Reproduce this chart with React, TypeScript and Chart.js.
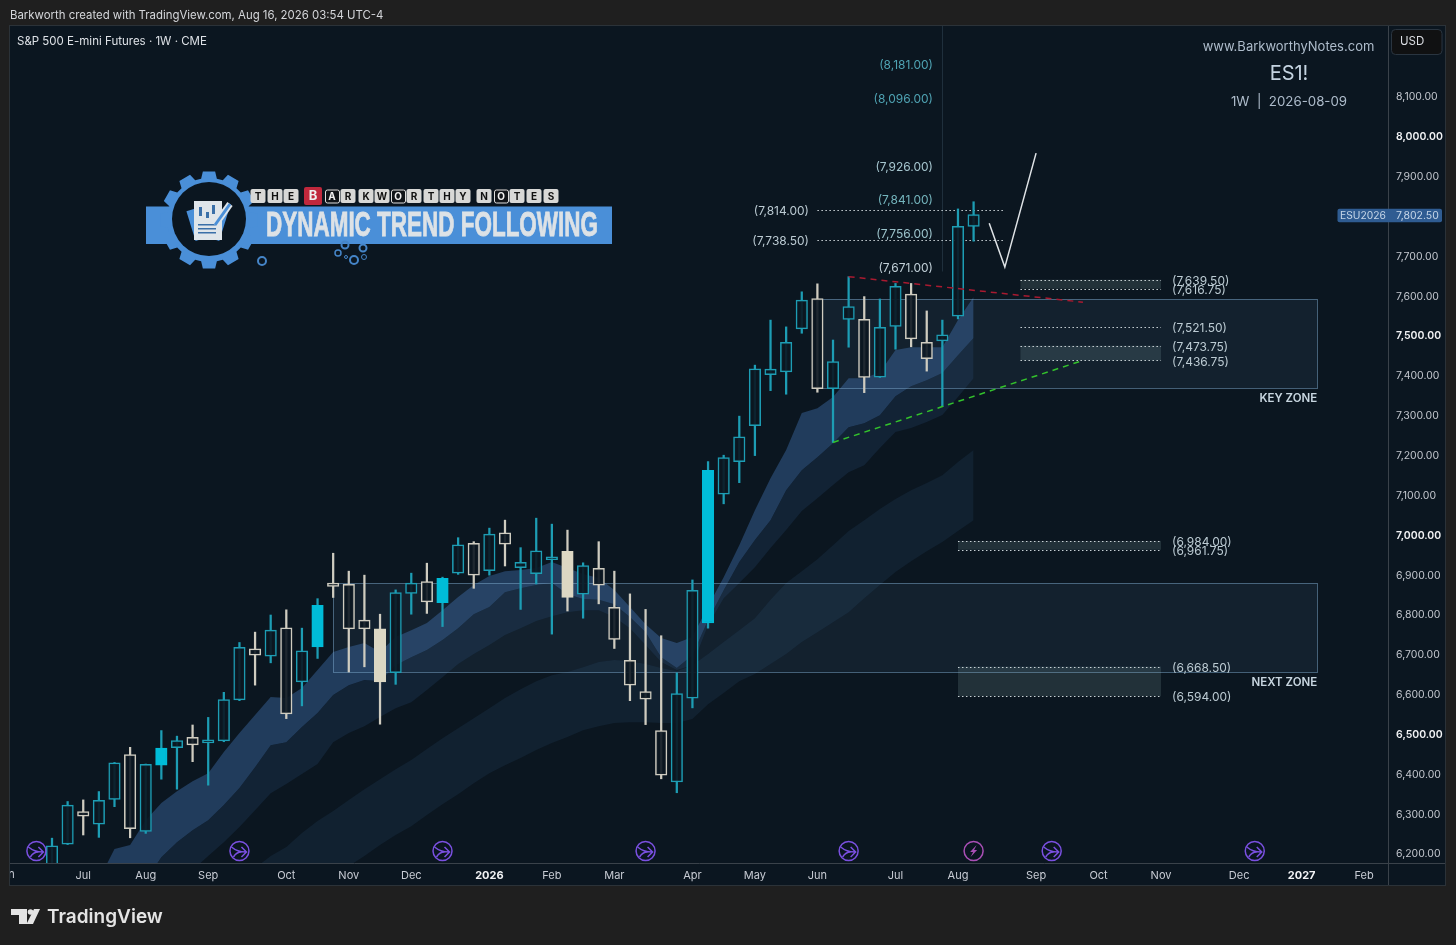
import React, { useEffect, useRef } from "react";
import { Chart, registerables } from "chart.js";

Chart.register(...registerables);

const FONT = 'Inter, "Noto Sans", sans-serif';

// weekly candles, week 0 = mid June 2025, week 59 = 2026-08-09
const opens = [6160,6223,6305,6273,6335,6448,6255,6421,6465,6491,6477,6482,6585,6713,6695,6766,6630,6718,6878,6875,6785,6763,6653,6852,6882,6829,6903,6978,6909,7004,6917,6902,6937,6958,6850,6915,6817,6684,6606,6508,6379,6589,6778,7101,7183,7273,7401,7408,7516,7592,7366,7540,7540,7395,7522,7603,7482,7486,7548,7773];
const highs = [6238,6330,6334,6355,6428,6466,6424,6508,6494,6522,6541,6604,6729,6755,6798,6811,6765,6839,6953,6908,6898,6800,6861,6903,6928,6893,6992,6982,7016,7036,6967,7041,7026,7011,6929,6982,6908,6851,6812,6746,6653,6886,7183,7199,7297,7425,7538,7521,7609,7629,7488,7647,7597,7591,7630,7630,7561,7538,7817,7835];
const lows = [6140,6222,6246,6240,6317,6239,6250,6386,6361,6430,6371,6480,6583,6622,6678,6538,6570,6689,6842,6655,6668,6524,6624,6800,6802,6769,6900,6865,6898,6921,6812,6876,6750,6808,6790,6826,6714,6583,6523,6387,6352,6565,6765,7077,7130,7198,7361,7352,7505,7357,7231,7470,7356,7394,7465,7471,7410,7321,7541,7736];
const closes = [6219,6321,6293,6333,6427,6262,6423,6464,6483,6472,6485,6586,6717,6697,6760,6550,6708,6822,6870,6763,6763,6630,6854,6878,6831,6890,6974,6898,7001,6976,6930,6959,6944,6842,6922,6873,6737,6622,6587,6396,6601,6860,7161,7193,7245,7416,7415,7482,7588,7366,7434,7572,7394,7520,7623,7491,7441,7501,7773,7802.5];
const solidWeeks = [7, 17, 21, 25, 33, 42];

// moving-average ribbons, one value per week
const ribbonFastTop = [5950,6000,6060,6133,6211,6221,6283,6326,6356,6381,6401,6454,6502,6547,6592,6590,6615,6660,6705,6718,6728,6705,6743,6760,6778,6810,6843,6873,6896,6908,6911,6916,6931,6916,6901,6891,6861,6818,6775,6740,6728,6743,6820,6893,6973,7061,7141,7212,7305,7317,7345,7392,7392,7407,7463,7470,7470,7470,7538,7596];
const ribbonFastBottom = [5800,5830,5870,5920,5970,6020,6133,6190,6228,6258,6283,6321,6364,6416,6471,6479,6517,6552,6597,6622,6635,6632,6672,6692,6710,6735,6765,6800,6818,6855,6865,6873,6878,6850,6838,6836,6825,6793,6755,6692,6665,6697,6785,6860,6931,6986,7036,7111,7161,7194,7229,7269,7279,7299,7347,7372,7387,7405,7450,7493];
const ribbonMidBottom = [5660,5700,5750,5800,5850,5910,5982,6045,6108,6158,6193,6228,6266,6308,6351,6374,6399,6424,6479,6502,6519,6542,6564,6579,6610,6642,6675,6700,6723,6748,6765,6783,6795,6805,6810,6810,6793,6765,6723,6680,6660,6672,6773,6840,6878,6918,6966,7011,7059,7091,7124,7156,7174,7217,7257,7267,7282,7300,7345,7392];
const ribbonSlowTop = [5681,5719,5756,5794,5832,5870,5907,5945,5982,6020,6057,6095,6133,6163,6193,6216,6251,6281,6306,6334,6361,6386,6411,6434,6462,6489,6514,6539,6564,6590,6612,6632,6647,6655,6667,6680,6685,6682,6675,6665,6657,6672,6700,6730,6760,6790,6836,6878,6908,6938,6973,7009,7036,7064,7089,7111,7129,7149,7182,7212];
const ribbonSlowBottom = [5468,5505,5543,5581,5618,5656,5693,5731,5769,5806,5844,5882,5919,5957,5995,6032,6070,6108,6145,6168,6193,6221,6246,6268,6296,6323,6348,6376,6401,6421,6439,6459,6477,6492,6509,6519,6527,6529,6529,6527,6527,6537,6574,6602,6632,6650,6675,6700,6730,6755,6780,6805,6840,6873,6906,6933,6958,6981,7009,7036];

// drawings
const resistanceWeeks = [51, 66];
const resistanceValues = [7647, 7583];
const supportWeeks = [50, 57, 66];
const supportValues = [7231, 7321, 7436.75];
const projectionWeeks = [60, 61, 63];
const projectionValues = [7781, 7671, 7957];

const zoneTop = [7591, 6878];
const zoneBottom = [7367.5, 6655];
const zoneStart = [49, 18];
const zoneEnd = 81;
const zoneNames = ["KEY ZONE", "NEXT ZONE"];

const bandTop = [7639.5, 7473.75, 6984, 6668.5];
const bandBottom = [7616.75, 7436.75, 6961.75, 6594];
const bandStart = [62, 62, 58, 58];
const bandEnd = 71;
const soloLevel = 7521.5;
const leftLevels = [7814, 7738.5];
const leftLevelStart = 49;
const leftLevelEnd = 61;
const targets = [8181, 8096, 7926, 7841, 7756, 7671];
const targetColors = ["#4fa3b3", "#4fa3b3", "#a6c6cf", "#74b4bc", "#9cc4cc", "#c2d0d8"];
const targetWeek = 56.4;
const markerWeek = 57;
const markerValue = 7660;

const eventWeeks = [-1, 12, 25, 38, 51, 64, 77];
const earningsWeek = 59;

const yTicks = [6200,6300,6400,6500,6600,6700,6800,6900,7000,7100,7200,7300,7400,7500,7600,7700,7800,7900,8000,8100];
const boldY = [6500, 7000, 7500, 8000];
const monthWeeks = [2,6,10,15,19,23,28,32,36,41,45,49,54,58,63,67,71,76,80,84];
const monthNames = ["Jul","Aug","Sep","Oct","Nov","Dec","2026","Feb","Mar","Apr","May","Jun","Jul","Aug","Sep","Oct","Nov","Dec","2027","Feb"];

const tileLetters = "THEBARKWORTHYNOTES".split("");
const tileX = [258,275,291,313,332,348,366,382,398,414,431,447,463,484,501,517,534,551];

const PAGE = "#1f1f1f";
const PANEL = "#0b1620";
const TEAL = "#1d9db4";
const WHITE = "#cfccc0";
const CYAN = "#00bcd8";
const CREAM = "#dcd7c3";

const pts = (ys: number[]) => ys.map((y, x) => ({ x, y }));
const fmt = (v: number) => v.toLocaleString("en-US", { minimumFractionDigits: 2, maximumFractionDigits: 2 });

function text(ctx: any, s: string, x: number, y: number, font: string, color: string, align = "left") {
  ctx.font = font;
  ctx.fillStyle = color;
  ctx.textAlign = align;
  ctx.textBaseline = "middle";
  ctx.fillText(s, x, y + 1);
}

function gear(ctx: any, cx: number, cy: number, rOut: number, rIn: number, teeth: number) {
  ctx.beginPath();
  const step = (Math.PI * 2) / teeth;
  for (let i = 0; i < teeth; i++) {
    const a = i * step - Math.PI / 2;
    const w = step * 0.24;
    ctx.lineTo(cx + rIn * Math.cos(a - w * 1.5), cy + rIn * Math.sin(a - w * 1.5));
    ctx.lineTo(cx + rOut * Math.cos(a - w), cy + rOut * Math.sin(a - w));
    ctx.lineTo(cx + rOut * Math.cos(a + w), cy + rOut * Math.sin(a + w));
    ctx.lineTo(cx + rIn * Math.cos(a + w * 1.5), cy + rIn * Math.sin(a + w * 1.5));
  }
  ctx.closePath();
  ctx.fill();
}

function ring(ctx: any, x: number, y: number, r: number, w = 1.5) {
  ctx.beginPath();
  ctx.arc(x, y, r, 0, Math.PI * 2);
  ctx.lineWidth = w;
  ctx.strokeStyle = "#4585c8";
  ctx.stroke();
}

function drawLogo(ctx: any) {
  const blue = "#4a8fd8";
  ctx.save();
  ctx.fillStyle = blue;
  ctx.fillRect(146, 206.5, 466, 37.5);
  gear(ctx, 209, 220, 49, 42, 12);
  ctx.fillStyle = PANEL;
  ctx.beginPath();
  ctx.arc(209, 219, 37, 0, Math.PI * 2);
  ctx.fill();
  // notes and pencil
  ctx.fillStyle = "#4a8fd8";
  ctx.save();
  ctx.translate(209, 220);
  ctx.rotate(-0.3);
  ctx.fillRect(-19, -15, 27, 31);
  ctx.rotate(0.6);
  ctx.fillRect(-9, -14, 25, 31);
  ctx.restore();
  ctx.fillStyle = "#dfe5ea";
  ctx.fillRect(194, 201, 28, 39);
  ctx.fillStyle = "#3a6fa8";
  ctx.fillRect(199, 207, 3, 9);
  ctx.fillRect(206, 212, 3, 6);
  ctx.fillRect(212, 205, 3, 9);
  ctx.fillRect(198, 224, 18, 1.5);
  ctx.fillRect(198, 228, 18, 1.5);
  ctx.fillRect(198, 232, 18, 1.5);
  ctx.strokeStyle = "#dfe5ea";
  ctx.lineWidth = 6.5;
  ctx.beginPath();
  ctx.moveTo(215, 225);
  ctx.lineTo(230, 204);
  ctx.stroke();
  ctx.strokeStyle = "#4a8fd8";
  ctx.lineWidth = 3;
  ctx.beginPath();
  ctx.moveTo(215, 225);
  ctx.lineTo(230, 204);
  ctx.stroke();
  // tiles
  tileLetters.forEach((l, i) => {
    const x = tileX[i];
    const red = i === 3;
    const dark = i === 4 || i === 8 || i === 14;
    const w = red ? 18 : 15;
    const h = red ? 18 : 14;
    ctx.fillStyle = red ? "#c0283c" : dark ? "#101418" : "#d8d8d6";
    ctx.beginPath();
    ctx.roundRect(x - w / 2, 196 - h / 2, w, h, 2);
    ctx.fill();
    if (dark) {
      ctx.strokeStyle = "#e0e0e0";
      ctx.lineWidth = 1;
      ctx.beginPath();
      ctx.roundRect(x - w / 2 + 1, 196 - h / 2 + 1, w - 1, h - 1, 2);
      ctx.stroke();
    }
    text(ctx, l, x, 195.5, `bold ${red ? 13 : 10}px ${FONT}`, red || dark ? "#f0f0f0" : "#111111", "center");
  });
  // title stretched to banner width
  ctx.font = 'bold 31px "Liberation Sans Narrow", "Liberation Sans", sans-serif';
  const title = "DYNAMIC TREND FOLLOWING";
  const tw = ctx.measureText(title).width;
  ctx.save();
  ctx.translate(266, 226);
  ctx.scale(332 / tw, 1.14);
  ctx.fillStyle = "#dde2e6";
  ctx.strokeStyle = "#dde2e6";
  ctx.lineWidth = 0.7;
  ctx.textAlign = "left";
  ctx.textBaseline = "middle";
  ctx.fillText(title, 0, 0);
  ctx.strokeText(title, 0, 0);
  ctx.restore();
  // little gears
  ring(ctx, 262, 261, 4, 2);
  ring(ctx, 345, 245, 3.5, 2);
  ring(ctx, 338, 253, 3);
  ring(ctx, 346, 257, 1.5, 1);
  ring(ctx, 354, 260, 4, 2);
  ring(ctx, 363, 248, 3.5, 2);
  ring(ctx, 364, 257, 2.5, 1);
  ctx.restore();
}

function drawEvent(ctx: any, x: number, lightning: boolean) {
  const y = 851;
  const c = lightning ? "#a94fb5" : "#7a50e0";
  ctx.save();
  ctx.strokeStyle = c;
  ctx.fillStyle = c;
  ctx.lineWidth = 1.5;
  ctx.beginPath();
  ctx.arc(x, y, 9.5, 0, Math.PI * 2);
  ctx.fillStyle = "rgba(11,22,32,0.75)";
  ctx.fill();
  ctx.stroke();
  ctx.fillStyle = c;
  if (lightning) {
    ctx.beginPath();
    ctx.moveTo(x + 3, y - 6);
    ctx.lineTo(x - 3.5, y + 1);
    ctx.lineTo(x - 0.5, y + 1);
    ctx.lineTo(x - 3, y + 6);
    ctx.lineTo(x + 3.5, y - 1);
    ctx.lineTo(x + 0.5, y - 1);
    ctx.closePath();
    ctx.fill();
  } else {
    ctx.beginPath();
    ctx.moveTo(x - 8, y - 4);
    ctx.quadraticCurveTo(x - 2, y + 1, x + 6, y + 1);
    ctx.moveTo(x - 6, y + 6);
    ctx.quadraticCurveTo(x - 3, y + 1, x + 2, y + 1);
    ctx.moveTo(x + 2, y - 4);
    ctx.lineTo(x + 7, y + 1);
    ctx.lineTo(x + 2, y + 6);
    ctx.stroke();
  }
  ctx.restore();
}

function drawLevel(ctx: any, x0: number, x1: number, y: number) {
  ctx.save();
  ctx.strokeStyle = "#c9d2d6";
  ctx.lineWidth = 1;
  ctx.setLineDash([1.5, 2.5]);
  ctx.beginPath();
  ctx.moveTo(x0, Math.round(y) + 0.5);
  ctx.lineTo(x1, Math.round(y) + 0.5);
  ctx.stroke();
  ctx.restore();
}

const overlay = {
  id: "overlay",
  beforeDraw(chart: any) {
    const { ctx } = chart;
    ctx.save();
    ctx.fillStyle = PAGE;
    ctx.fillRect(0, 0, 1456, 945);
    ctx.fillStyle = PANEL;
    ctx.fillRect(10, 26, 1435, 859);
    ctx.strokeStyle = "#2b3238";
    ctx.lineWidth = 1;
    ctx.strokeRect(9.5, 25.5, 1436, 860);
    ctx.strokeStyle = "#3a424a";
    ctx.beginPath();
    ctx.moveTo(1388, 863.5);
    ctx.lineTo(1445, 863.5);
    ctx.moveTo(1388.5, 863);
    ctx.lineTo(1388.5, 885);
    ctx.stroke();
    ctx.restore();
    // price labels sit one pixel lower than the middle baseline gives
    chart.scales.y.getLabelItems().forEach((it: any) => {
      if (!it.shifted) {
        it.shifted = true;
        it.options.translation[1] += 1;
      }
    });
  },
  afterDatasetDraw(chart: any, args: any) {
    // ribbons are drawn last-to-first, so index 0 is the last ribbon painted
    if (args.index !== 0) return;
    const { ctx, chartArea: a } = chart;
    const X = chart.scales.x;
    const Y = chart.scales.y;
    ctx.save();
    ctx.beginPath();
    ctx.rect(a.left, a.top, a.width, a.height);
    ctx.clip();
    zoneTop.forEach((t, i) => {
      const x0 = X.getPixelForValue(zoneStart[i]);
      const x1 = X.getPixelForValue(zoneEnd);
      const y0 = Y.getPixelForValue(t);
      const y1 = Y.getPixelForValue(zoneBottom[i]);
      ctx.fillStyle = "rgba(110,150,195,0.085)";
      ctx.fillRect(x0, y0, x1 - x0, y1 - y0);
      ctx.strokeStyle = "rgba(125,170,205,0.5)";
      ctx.lineWidth = 1;
      ctx.strokeRect(Math.round(x0) + 0.5, Math.round(y0) + 0.5, Math.round(x1 - x0), Math.round(y1 - y0));
    });
    bandTop.forEach((t, i) => {
      const x0 = X.getPixelForValue(bandStart[i]);
      const x1 = X.getPixelForValue(bandEnd);
      const y0 = Y.getPixelForValue(t);
      const y1 = Y.getPixelForValue(bandBottom[i]);
      ctx.fillStyle = "rgba(150,185,185,0.17)";
      ctx.fillRect(x0, y0, x1 - x0, y1 - y0);
      drawLevel(ctx, x0, x1, y0);
      drawLevel(ctx, x0, x1, y1);
    });
    drawLevel(ctx, X.getPixelForValue(bandStart[0]), X.getPixelForValue(bandEnd), Y.getPixelForValue(soloLevel));
    leftLevels.forEach((v) => {
      drawLevel(ctx, X.getPixelForValue(leftLevelStart), X.getPixelForValue(leftLevelEnd), Y.getPixelForValue(v));
    });
    ctx.strokeStyle = "rgba(120,160,190,0.18)";
    ctx.lineWidth = 1;
    const mx = Math.round(X.getPixelForValue(markerWeek)) + 0.5;
    ctx.beginPath();
    ctx.moveTo(mx, a.top);
    ctx.lineTo(mx, Y.getPixelForValue(markerValue));
    ctx.stroke();
    ctx.restore();
  },
  afterDraw(chart: any) {
    const { ctx } = chart;
    const X = chart.scales.x;
    const Y = chart.scales.y;
    ctx.save();
    // header and footer
    text(ctx, "Barkworth created with TradingView.com, Aug 16, 2026 03:54 UTC-4", 10, 15, `11.4px ${FONT}`, "#d4d6da");
    text(ctx, "S&P 500 E-mini Futures · 1W · CME", 17, 41, `11.5px ${FONT}`, "#dde1e6");
    text(ctx, "www.BarkworthyNotes.com", 1288.5, 46.5, `13px ${FONT}`, "#aebccb", "center");
    text(ctx, "ES1!", 1289, 73, `20px ${FONT}`, "#c4d3e0", "center");
    text(ctx, "1W  |  2026-08-09", 1289, 100.5, `13.3px ${FONT}`, "#aebccb", "center");
    drawLogo(ctx);
    // level labels
    const lab = `12px ${FONT}`;
    [...bandTop, ...bandBottom, soloLevel].forEach((v) => {
      text(ctx, `(${fmt(v)})`, 1172, Y.getPixelForValue(v) + 0.5, lab, "#bccbd3");
    });
    leftLevels.forEach((v) => {
      text(ctx, `(${fmt(v)})`, 809, Y.getPixelForValue(v) + 0.5, lab, "#bccbd3", "right");
    });
    targets.forEach((v, i) => {
      text(ctx, `(${fmt(v)})`, X.getPixelForValue(targetWeek), Y.getPixelForValue(v) + 0.5, lab, targetColors[i], "right");
    });
    zoneNames.forEach((n, i) => {
      text(ctx, n, X.getPixelForValue(zoneEnd), Y.getPixelForValue(zoneBottom[i]) + 9.5, `600 11.5px ${FONT}`, "#c8d6e0", "right");
    });
    // events
    eventWeeks.forEach((w) => drawEvent(ctx, X.getPixelForValue(w), false));
    drawEvent(ctx, X.getPixelForValue(earningsWeek), true);
    // first month label clipped by the panel edge
    ctx.save();
    ctx.beginPath();
    ctx.rect(10, 864, 40, 21);
    ctx.clip();
    text(ctx, "Jun", X.getPixelForValue(-3), 874, `11px ${FONT}`, "#c8ccd4", "center");
    ctx.restore();
    // USD box
    ctx.fillStyle = "#101112";
    ctx.strokeStyle = "#2a3540";
    ctx.lineWidth = 1;
    ctx.beginPath();
    ctx.roundRect(1391.5, 29.5, 50.5, 25, 4);
    ctx.fill();
    ctx.stroke();
    text(ctx, "USD", 1400, 41, `11.5px ${FONT}`, "#dcdfe4");
    // last price tag
    const tagY = Y.getPixelForValue(closes[closes.length - 1]);
    ctx.fillStyle = "#2f5c92";
    ctx.beginPath();
    ctx.roundRect(1337.5, tagY - 6, 104.5, 13.5, 2);
    ctx.fill();
    text(ctx, "ESU2026", 1340, tagY, `10.3px ${FONT}`, "#c6d6e8");
    text(ctx, fmt(closes[closes.length - 1]), 1396, tagY, `10.5px ${FONT}`, "#c6d6e8");
    // TradingView mark
    ctx.fillStyle = "#e4e4e4";
    ctx.beginPath();
    ctx.moveTo(11, 909);
    ctx.lineTo(27, 909);
    ctx.lineTo(27, 924);
    ctx.lineTo(19, 924);
    ctx.lineTo(19, 915);
    ctx.lineTo(11, 915);
    ctx.closePath();
    ctx.fill();
    ctx.beginPath();
    ctx.arc(30.5, 912, 2.8, 0, Math.PI * 2);
    ctx.fill();
    ctx.beginPath();
    ctx.moveTo(34, 909);
    ctx.lineTo(40, 909);
    ctx.lineTo(33, 924);
    ctx.lineTo(26.5, 924);
    ctx.closePath();
    ctx.fill();
    text(ctx, "TradingView", 47, 916, `600 19px ${FONT}`, "#e4e4e4");
    ctx.restore();
  },
};

export default function App() {
  const ref = useRef<HTMLCanvasElement>(null);
  useEffect(() => {
    if (!ref.current) return;
    const up = (i: number) => closes[i] >= opens[i];
    const ribbon = (data: number[], fill: any, color: string) => ({
      type: "line",
      data: pts(data),
      borderWidth: 0,
      pointRadius: 0,
      tension: 0,
      fill,
      backgroundColor: color,
      order: 10,
    });
    const chart = new Chart(ref.current, {
      type: "bar",
      data: {
        datasets: [
          ribbon(ribbonFastTop, "+1", "#213c5c"),
          ribbon(ribbonFastBottom, "+1", "#122335"),
          ribbon(ribbonMidBottom, false, "#000"),
          ribbon(ribbonSlowTop, "+1", "#112130"),
          ribbon(ribbonSlowBottom, false, "#000"),
          {
            type: "line",
            data: resistanceWeeks.map((x, i) => ({ x, y: resistanceValues[i] })),
            borderColor: "#a91a30",
            borderWidth: 1.5,
            borderDash: [6, 5],
            pointRadius: 0,
            fill: false,
            order: 1,
          },
          {
            type: "line",
            data: supportWeeks.map((x, i) => ({ x, y: supportValues[i] })),
            borderColor: "#33c22c",
            borderWidth: 1.5,
            borderDash: [6, 5],
            pointRadius: 0,
            fill: false,
            order: 1,
          },
          {
            type: "line",
            data: projectionWeeks.map((x, i) => ({ x, y: projectionValues[i] })),
            borderColor: "#dfe3e6",
            borderWidth: 1.5,
            pointRadius: 0,
            fill: false,
            order: 1,
          },
          {
            type: "bar",
            data: highs.map((h, i) => ({ x: i, y: [lows[i], h] })),
            barThickness: 1.6,
            grouped: false,
            backgroundColor: highs.map((_, i) => (up(i) ? TEAL : WHITE)),
            borderWidth: 0,
            order: 5,
          },
          {
            type: "bar",
            data: opens.map((o, i) => ({ x: i, y: [Math.min(o, closes[i]), Math.max(o, closes[i])] })),
            barThickness: 11.5,
            grouped: false,
            backgroundColor: opens.map((_, i) =>
              solidWeeks.includes(i) ? (up(i) ? CYAN : CREAM) : "rgba(11,22,32,0.9)"
            ),
            borderColor: opens.map((_, i) =>
              solidWeeks.includes(i) ? (up(i) ? CYAN : CREAM) : up(i) ? TEAL : WHITE
            ),
            borderWidth: 1.5,
            borderSkipped: false,
            order: 4,
          },
        ] as any,
      },
      options: {
        responsive: false,
        animation: false,
        events: [],
        layout: { autoPadding: false, padding: { left: 10, top: 26, right: 11, bottom: 60 } },
        plugins: { legend: { display: false }, tooltip: { enabled: false } },
        scales: {
          x: {
            type: "linear",
            offset: false,
            min: -2.689,
            max: 85.53,
            afterFit: (s: any) => { s.height = 22; },
            afterBuildTicks: (s: any) => { s.ticks = monthWeeks.map((value) => ({ value })); },
            grid: { display: false, drawTicks: false },
            border: { color: "#3a424a", width: 1 },
            ticks: {
              autoSkip: false,
              maxRotation: 0,
              padding: 6,
              callback: (v: any) => monthNames[monthWeeks.indexOf(v)],
              color: (c: any) => (c.tick && [28, 80].includes(c.tick.value) ? "#f2f3f5" : "#c8ccd4"),
              font: (c: any) => ({ family: FONT, size: 11, weight: c.tick && [28, 80].includes(c.tick.value) ? "bold" : "normal" }),
            },
          },
          y: {
            type: "linear",
            position: "right",
            min: 6175.7,
            max: 8276,
            afterFit: (s: any) => { s.width = 57; },
            afterBuildTicks: (s: any) => { s.ticks = yTicks.map((value) => ({ value })); },
            grid: { display: false, drawTicks: false },
            border: { color: "#3a424a", width: 1 },
            ticks: {
              autoSkip: false,
              padding: 8,
              crossAlign: "near",
              callback: (v: any) => fmt(Number(v)),
              color: (c: any) => (c.tick && boldY.includes(c.tick.value) ? "#f2f3f5" : "#c3c7ce"),
              font: (c: any) => ({ family: FONT, size: 10.5, weight: c.tick && boldY.includes(c.tick.value) ? "600" : "normal" }),
            },
          },
        },
      } as any,
      plugins: [overlay],
    } as any);
    return () => chart.destroy();
  }, []);
  return (
    <div style={{ position: "fixed", left: 0, top: 0, width: 1456, height: 945, background: PAGE }}>
      <canvas ref={ref} width={1456} height={945} style={{ display: "block", width: 1456, height: 945 }} />
    </div>
  );
}
